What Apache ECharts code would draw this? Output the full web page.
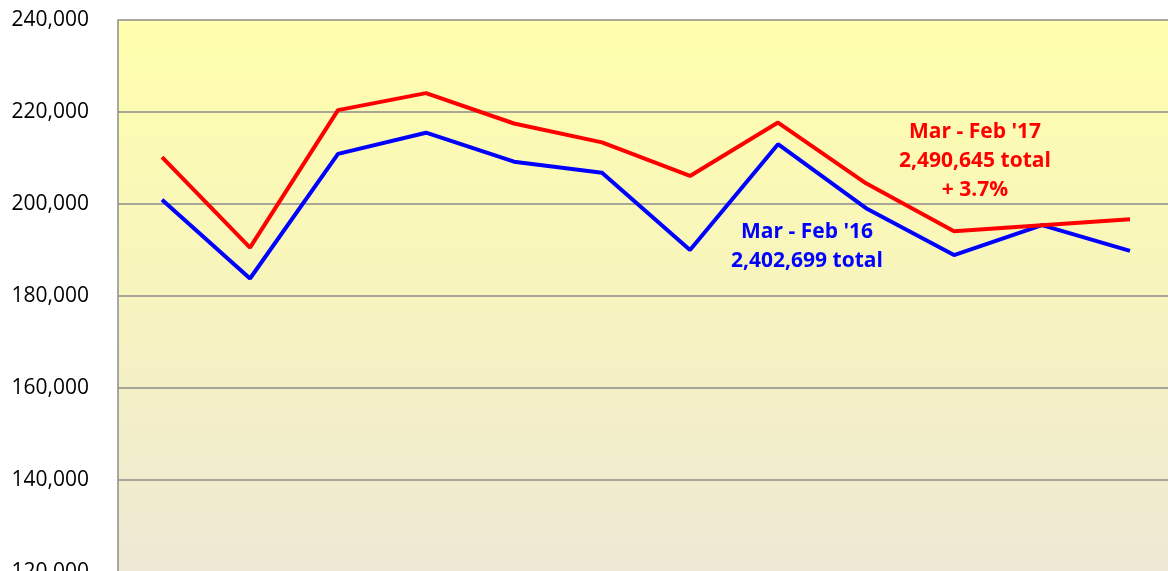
<!DOCTYPE html>
<html>
<head>
<meta charset="utf-8">
<script src="https://cdn.jsdelivr.net/npm/echarts@6/dist/echarts.min.js"></script>
<style>html,body{margin:0;padding:0;background:#fff}#c{width:1168px;height:571px}</style>
</head>
<body>
<div id="c"></div>
<script>
const categories = ['Mar','Apr','May','Jun','Jul','Aug','Sep','Oct','Nov','Dec','Jan','Feb'];
const fy17 = [210200, 190500, 220400, 224100, 217500, 213400, 206100, 217700, 204500, 194100, 195400, 196700];
const fy16 = [200900, 183800, 210900, 215500, 209200, 206800, 190000, 213000, 199100, 188900, 195400, 189800];
const yTicks = {min: 120000, max: 240000, interval: 20000};
const label17 = ["Mar - Feb '17", '2,490,645 total', '+ 3.7%'];
const label16 = ["Mar - Feb '16", '2,402,699 total'];

const chart = echarts.init(document.getElementById('c'));
chart.setOption({
  animation: false,
  grid: {
    left: 118, top: 20, width: 1056, height: 552,
    outerBoundsMode: 'none', containLabel: false,
    show: true, borderWidth: 0,
    backgroundColor: {
      type: 'linear', x: 0, y: 0, x2: 0, y2: 1,
      colorStops: [
        {offset: 0, color: '#FFFFAD'},
        {offset: 0.45, color: '#F8F5BC'},
        {offset: 1, color: '#EEE8D5'}
      ]
    }
  },
  xAxis: {
    type: 'category', data: categories, boundaryGap: true,
    axisLine: {show: false}, axisTick: {show: false}, axisLabel: {show: false}
  },
  yAxis: {
    type: 'value', min: yTicks.min, max: yTicks.max, interval: yTicks.interval,
    axisLine: {show: true, lineStyle: {color: '#8c8c8c', width: 1.5}},
    axisTick: {show: false},
    splitLine: {lineStyle: {color: '#8c8c8c', width: 1.5}},
    axisLabel: {
      margin: 29, color: '#000', fontSize: 21, fontFamily: 'Open Sans',
      formatter: v => v.toLocaleString('en-US')
    }
  },
  series: [
    {type: 'line', data: fy17, showSymbol: false, symbol: 'none', lineStyle: {color: '#FF0000', width: 4}, z: 3},
    {type: 'line', data: fy16, showSymbol: false, symbol: 'none', lineStyle: {color: '#0000FF', width: 4}, z: 2}
  ],
  graphic: [
    {type: 'text', z: 10, style: {x: 975, y: 161, text: label17.join('\n'), fill: '#FF0000', font: 'bold 21px "Open Sans"', align: 'center', verticalAlign: 'middle', lineHeight: 29}},
    {type: 'text', z: 10, style: {x: 807, y: 247, text: label16.join('\n'), fill: '#0000FF', font: 'bold 21px "Open Sans"', align: 'center', verticalAlign: 'middle', lineHeight: 29}}
  ]
});
</script>
</body>
</html>
